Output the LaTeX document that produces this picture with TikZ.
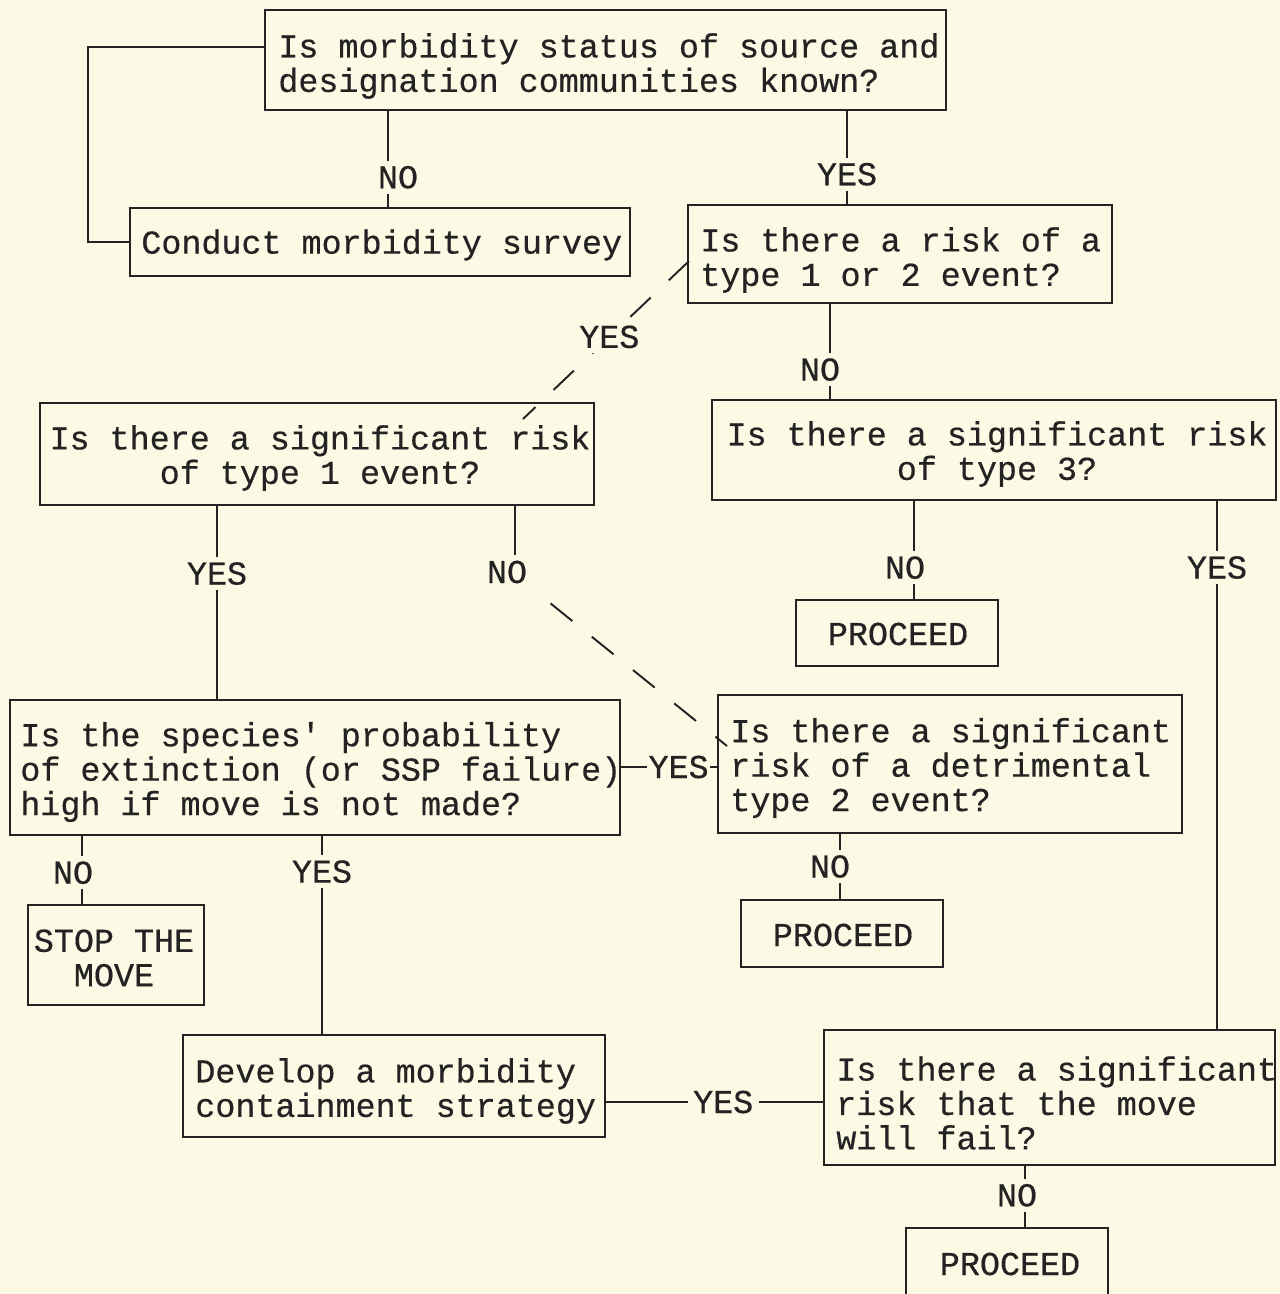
\documentclass[tikz,border=0pt]{standalone}
\usepackage{fontspec}
\newfontfamily\tw[FakeBold=0.5]{Liberation Mono}
\usetikzlibrary{fit,calc}
\definecolor{paper}{RGB}{252,249,228}
\definecolor{ink}{RGB}{35,35,35}
\begin{document}
\begin{tikzpicture}[x=0.02cm,y=-0.02cm,
  box/.style={draw=ink, line width=1.1pt, inner sep=0pt},
  txt/.style={font=\tw\fontsize{19}{19.6}\selectfont, text=ink, inner sep=0pt, align=left, anchor=west},
  ctxt/.style={txt, align=center, anchor=center},
  lbl/.style={font=\tw\fontsize{19}{19.6}\selectfont, text=ink, fill=paper, inner sep=3pt},
  conn/.style={draw=ink, line width=1.1pt},
  dashline/.style={conn, dash pattern=on 0.56cm off 0.5cm}]
\useasboundingbox (0,0) rectangle (1280,1294);
\fill[paper] (0,0) rectangle (1280,1294);

% boxes
\node[box, fit={(265,10) (946,110)}] (b1) {};
\node[box, fit={(130,208) (630,276)}] (b2) {};
\node[box, fit={(688,205) (1112,303)}] (b3) {};
\node[box, fit={(40,403) (594,505)}] (b4) {};
\node[box, fit={(712,400) (1276,500)}] (b5) {};
\node[box, fit={(796,600) (998,666)}] (b6) {};
\node[box, fit={(10,700) (620,835)}] (b7) {};
\node[box, fit={(718,695) (1182,833)}] (b8) {};
\node[box, fit={(28,905) (204,1005)}] (b9) {};
\node[box, fit={(741,900) (943,967)}] (b10) {};
\node[box, fit={(183,1035) (605,1137)}] (b11) {};
\node[box, fit={(824,1030) (1275,1165)}] (b12) {};
\node[box, fit={(906,1228) (1108,1312)}] (b13) {};

% texts
\node[txt] (t1) at (278,66) {Is morbidity status of source and\\designation communities known?};
\node[txt] (t2) at (141,245) {Conduct morbidity survey};
\node[txt] (t3) at (700,260) {Is there a risk of a\\type 1 or 2 event?};
\node[ctxt] (t4) at (320,458) {Is there a significant risk\\of type 1 event?};
\node[ctxt] (t5) at (997,454) {Is there a significant risk\\of type 3?};
\node[ctxt] (t6) at (898,634) {PROCEED};
\node[txt] (t7) at (20,772) {Is the species' probability\\of extinction (or SSP failure)\\high if move is not made?};
\node[txt] (t8) at (730,768) {Is there a significant\\risk of a detrimental\\type 2 event?};
\node[ctxt] (t9) at (114,958) {STOP THE\\MOVE};
\node[ctxt] (t10) at (843,935) {PROCEED};
\node[txt] (t11) at (195,1091) {Develop a morbidity\\containment strategy};
\node[txt] (t12) at (836,1103) {Is there a significant\\risk that the move\\will fail?};
\node[ctxt] (t13) at (1010,1264) {PROCEED};

% helper coordinates
\coordinate (p1) at ($(b1.north west)+(0,38)$);
\coordinate (xl) at (88,150);
\coordinate (x2) at (388,0);
\coordinate (x3) at (847,0);
\coordinate (x5) at (830,0);
\coordinate (x6) at (217,0);
\coordinate (x7) at (515,0);
\coordinate (x8) at (914,0);
\coordinate (x9) at (1217,0);
\coordinate (x11) at (82,0);
\coordinate (x12) at (322,0);
\coordinate (x13) at (840,0);
\coordinate (x15) at (1025,0);
\coordinate (y10) at (0,767);
\coordinate (y14) at (0,1102);
\coordinate (d3) at ($(b3.north west)+(2,57)$);
\coordinate (d4) at ($(b4.north east)+(-72,17)$);
\coordinate (d8) at ($(b8.north west)+(10,52)$);

% connectors
\draw[conn] (p1) -| (xl) |- (b2.west);
\draw[conn] (b1.south -| x2) -- node[lbl, pos=0.69, xshift=0.2cm] {NO} (b2.north -| x2);
\draw[conn] (b1.south -| x3) -- node[lbl, pos=0.68] {YES} (b3.north -| x3);
\draw[dashline] (d3) -- node[lbl, pos=0.48] {YES} (d4);
\draw[conn] (b3.south -| x5) -- node[lbl, pos=0.69, xshift=-0.2cm] {NO} (b5.north -| x5);
\draw[conn] (b4.south -| x6) -- node[lbl, pos=0.35] {YES} (b7.north -| x6);
\node[lbl] (no7) at (507,572) {NO};
\draw[conn] (b4.south -| x7) -- (no7.north -| x7);
\draw[dashline, dash phase=0.6cm] (no7.south east) -- (d8);
\draw[conn] (b5.south -| x8) -- node[lbl, pos=0.68, xshift=-0.18cm] {NO} (b6.north -| x8);
\draw[conn] (b5.south -| x9) -- node[lbl, pos=0.126] {YES} (b12.north -| x9);
\draw[conn] (b7.east |- y10) -- node[lbl, pos=0.6, inner xsep=1pt] {YES} (b8.west |- y10);
\draw[conn] (b7.south -| x11) -- node[lbl, pos=0.54, xshift=-0.18cm] {NO} (b9.north -| x11);
\draw[conn] (b7.south -| x12) -- node[lbl, pos=0.18] {YES} (b11.north -| x12);
\draw[conn] (b8.south -| x13) -- node[lbl, pos=0.5, xshift=-0.2cm] {NO} (b10.north -| x13);
\draw[conn] (b11.east |- y14) -- node[lbl, pos=0.54] {YES} (b12.west |- y14);
\draw[conn] (b12.south -| x15) -- node[lbl, pos=0.48, xshift=-0.16cm] {NO} (b13.north -| x15);
\end{tikzpicture}
\end{document}
